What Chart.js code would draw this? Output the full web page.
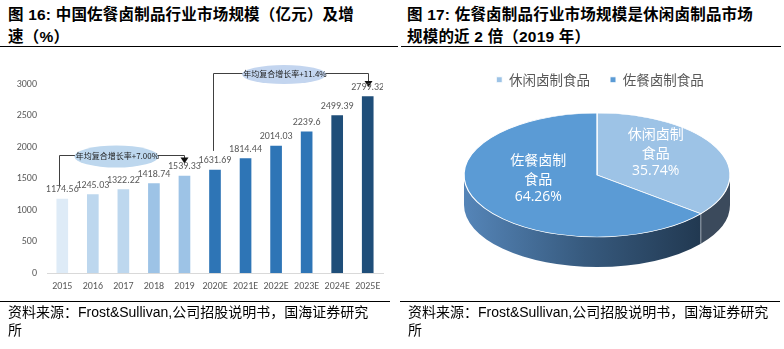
<!DOCTYPE html>
<html><head><meta charset="utf-8">
<script src="https://cdn.jsdelivr.net/npm/chart.js@4.4.0/dist/chart.umd.min.js"></script>
<style>
body{margin:0;width:784px;height:349px;background:#fff;position:relative;overflow:hidden;}
.title{position:absolute;top:4px;font-weight:bold;font-size:15.5px;line-height:22px;color:#000;white-space:nowrap;font-family:"Liberation Sans","Noto Sans CJK SC",sans-serif;letter-spacing:0.2px;}
.rule{position:absolute;height:0;border-top:1.5px solid #000;}
.src{position:absolute;top:303px;font-size:14px;line-height:18px;color:#000;white-space:nowrap;font-family:"Liberation Sans","Noto Sans CJK SC",sans-serif;}
canvas{position:absolute;}
</style></head><body>
<div class="title" style="left:8px">图 16: 中国佐餐卤制品行业市场规模（亿元）及增<br>速（%）</div>
<div class="title" style="left:407px">图 17: 佐餐卤制品行业市场规模是休闲卤制品市场<br>规模的近 2 倍（2019 年）</div>
<div class="rule" style="left:0;width:398px;top:45.5px"></div>
<div class="rule" style="left:401px;width:380px;top:45.5px"></div>
<canvas id="bar" width="400" height="255" style="left:0;top:50px"></canvas>
<canvas id="pie" width="384" height="250" style="left:400px;top:50px"></canvas>
<div class="rule" style="left:0;width:390px;top:300.5px;border-top-width:1px"></div>
<div class="rule" style="left:400px;width:380px;top:301px;border-top-width:1px"></div>
<div class="src" style="left:8px">资料来源：Frost&amp;Sullivan,公司招股说明书，国海证券研究<br>所</div>
<div class="src" style="left:408px">资料来源：Frost&amp;Sullivan,公司招股说明书，国海证券研究<br>所</div>
<script>
const years = ['2015','2016','2017','2018','2019','2020E','2021E','2022E','2023E','2024E','2025E'];
const marketSize = [1174.56,1245.03,1322.22,1418.74,1539.33,1631.69,1814.44,2014.03,2239.6,2499.39,2799.32];
const barColors = ['#DEEBF7','#BDD7EE','#BDD7EE','#9DC3E6','#9DC3E6','#2E75B6','#2E75B6','#2E75B6','#2E75B6','#1F4E79','#1F4E79'];
const yTicks = [0,500,1000,1500,2000,2500,3000];
const cagrLabels = ['年均复合增长率+7.00%','年均复合增长率+11.4%'];
const cagrFromIdx = [0,5];
const cagrToIdx = [4,10];
const pieLabels = ['休闲卤制食品','佐餐卤制食品'];
const pieShares = [35.74,64.26];
const pieColors = ['#9DC3E6','#5B9BD5'];

// pick a narrow font if one is installed
function hasFont(name){
  const c = document.createElement('canvas').getContext('2d');
  const s = 'abcdefghijklmnopqrstuvwxyz0123456789';
  return ['monospace','serif'].some(b=>{
    c.font = `72px ${b}`; const w0 = c.measureText(s).width;
    c.font = `72px '${name}', ${b}`; return Math.abs(c.measureText(s).width - w0) > 0.5;
  });
}
let numFont, tickSize, labelSize, labelScale;
if (hasFont('Liberation Sans Narrow')) { numFont = "'Liberation Sans Narrow'"; tickSize = 11; labelSize = 10.5; labelScale = 1; }
else if (hasFont('Carlito')) { numFont = "'Carlito'"; tickSize = 10; labelSize = 10.5; labelScale = 0.95; }
else if (hasFont('DejaVu Sans Condensed')) { numFont = "'DejaVu Sans Condensed'"; tickSize = 8.5; labelSize = 9.5; labelScale = 0.85; }
else { numFont = "'Liberation Sans'"; tickSize = 9; labelSize = 10.5; labelScale = 0.84; }

const brackets = [
  {bottom:1369, top:1877, tip:1738, dx:-3, fill:'#BDD7EE', ry:11},
  {bottom:1938, top:3176, tip:2953, dx:-2, fill:'#C3D5EF', ry:9.5}
];

const barAnno = {
  id:'barAnno',
  afterDatasetsDraw(chart){
    const ctx = chart.ctx, meta = chart.getDatasetMeta(0), ys = chart.scales.y;
    ctx.save();
    brackets.forEach((b,k)=>{
      const x1 = Math.round(meta.data[cagrFromIdx[k]].x + b.dx) + 0.5;
      const x2 = Math.round(meta.data[cagrToIdx[k]].x) + 0.5;
      const yb = ys.getPixelForValue(b.bottom);
      const yt = Math.round(ys.getPixelForValue(b.top)) + 0.5;
      const ytip = ys.getPixelForValue(b.tip);
      ctx.strokeStyle = '#404040'; ctx.lineWidth = 1;
      ctx.beginPath();
      ctx.moveTo(x1, yb); ctx.lineTo(x1, yt); ctx.lineTo(x2, yt); ctx.lineTo(x2, ytip-5);
      ctx.stroke();
      ctx.fillStyle = '#111';
      ctx.beginPath();
      ctx.moveTo(x2-4, ytip-6); ctx.lineTo(x2+4, ytip-6); ctx.lineTo(x2, ytip); ctx.closePath();
      ctx.fill();
      const ex = x1 + (x2-x1)*0.455;
      ctx.fillStyle = b.fill;
      ctx.beginPath(); ctx.ellipse(ex, yt+1, 42, b.ry, 0, 0, Math.PI*2); ctx.fill();
      ctx.fillStyle = '#222';
      ctx.font = "8px 'Noto Sans CJK SC'";
      ctx.textAlign = 'center'; ctx.textBaseline = 'middle';
      ctx.fillText(cagrLabels[k], ex+1, yt);
    });
    ctx.beginPath(); ctx.rect(0,0,chart.chartArea.right,chart.height); ctx.clip();
    ctx.font = labelSize + "px " + numFont;
    ctx.fillStyle = '#595959'; ctx.textAlign = 'center'; ctx.textBaseline = 'middle';
    meta.data.forEach((bar,i)=>{
      ctx.save();
      ctx.translate(bar.x, bar.y - 9.5); ctx.scale(labelScale, 1);
      ctx.fillText(String(marketSize[i]), 0, 0);
      ctx.restore();
    });
    ctx.restore();
  }
};

new Chart(document.getElementById('bar'), {
  type:'bar',
  data:{labels:years, datasets:[{data:marketSize, backgroundColor:barColors, barThickness:11}]},
  options:{
    responsive:false, animation:false, events:[],
    plugins:{legend:{display:false}, tooltip:{enabled:false}},
    layout:{padding:{left:0,right:17,top:34,bottom:6}},
    scales:{
      x:{grid:{display:false,drawTicks:false}, border:{color:'#D9D9D9'},
         ticks:{color:'#595959', font:{family:numFont,size:tickSize}, padding:7, maxRotation:0, autoSkip:false}},
      y:{min:0,max:3000, afterBuildTicks:s=>{s.ticks=yTicks.map(v=>({value:v}));},
         grid:{display:false,drawTicks:false}, border:{display:false},
         ticks:{color:'#595959', font:{family:numFont,size:tickSize}, padding:10, callback:v=>String(v)},
         afterFit:s=>{s.width=47;}}
    }
  },
  plugins:[barAnno]
});

const PIE = {cx:197, cy:125, rx:133, ry:62, depth:30};
const pie3d = {
  id:'pie3d',
  beforeDatasetsDraw(chart){
    const ctx = chart.ctx, arcs = chart.getDatasetMeta(0).data;
    const {cx,cy,rx,ry,depth} = PIE;
    arcs.forEach((arc,i)=>{
      const s = Math.max(arc.startAngle,0), e = Math.min(arc.endAngle,Math.PI);
      if(e<=s) return;
      ctx.beginPath();
      ctx.ellipse(cx,cy,rx,ry,0,s,e,false);
      ctx.ellipse(cx,cy+depth,rx,ry,0,e,s,true);
      ctx.closePath();
      if(i===1){
        const g = ctx.createLinearGradient(cx-rx,0,cx+rx*0.8,0);
        g.addColorStop(0,'#5585B8'); g.addColorStop(0.5,'#375A7E'); g.addColorStop(1,'#213850');
        ctx.fillStyle = g;
      } else ctx.fillStyle = '#3B4A5C';
      ctx.fill();
      if(s>0){
        ctx.strokeStyle = 'rgba(255,255,255,0.6)'; ctx.lineWidth = 0.8;
        ctx.beginPath();
        ctx.moveTo(cx+rx*Math.cos(s), cy+ry*Math.sin(s));
        ctx.lineTo(cx+rx*Math.cos(s), cy+ry*Math.sin(s)+depth);
        ctx.stroke();
      }
    });
    const a0 = arcs[0];
    ctx.save();
    ctx.translate(cx,cy); ctx.scale(rx/a0.outerRadius, ry/a0.outerRadius); ctx.translate(-a0.x,-a0.y);
  },
  afterDatasetsDraw(chart){
    const ctx = chart.ctx, arcs = chart.getDatasetMeta(0).data;
    ctx.restore();
    const {cx,cy,rx,ry} = PIE;
    ctx.save();
    ctx.fillStyle = '#fff';
    ctx.textAlign = 'center'; ctx.textBaseline = 'middle';
    arcs.forEach((arc,i)=>{
      const mid = (arc.startAngle+arc.endAngle)/2, f = 0.49;
      const x = cx + rx*f*Math.cos(mid), y = cy + ry*f*Math.sin(mid) - 9;
      ctx.font = "14px 'Noto Sans CJK SC'";
      ctx.fillText(pieLabels[i].slice(0,4), x, y-19);
      ctx.fillText(pieLabels[i].slice(4), x, y);
      ctx.font = "14px 'Open Sans','Noto Sans',sans-serif";
      ctx.fillText(pieShares[i].toFixed(2)+'%', x, y+18);
    });
    ctx.restore();
  }
};

new Chart(document.getElementById('pie'), {
  type:'pie',
  data:{labels:pieLabels, datasets:[{data:pieShares, backgroundColor:pieColors, borderColor:'#fff', borderWidth:1, clip:false}]},
  options:{
    responsive:false, animation:false, events:[],
    layout:{padding:{left:16, top:3}},
    plugins:{
      tooltip:{enabled:false},
      legend:{position:'top', labels:{boxWidth:6, boxHeight:6, color:'#595959', font:{family:'Noto Sans CJK SC', size:13.5}, padding:20}}
    }
  },
  plugins:[pie3d]
});
</script>
</body></html>
